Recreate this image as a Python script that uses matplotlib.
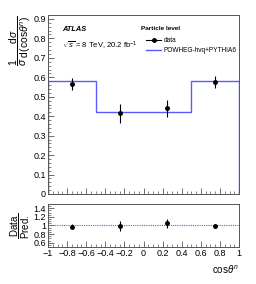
import numpy as np
import matplotlib
matplotlib.use("Agg")
import matplotlib.pyplot as plt
from matplotlib.ticker import MultipleLocator
from matplotlib.lines import Line2D

plt.rcParams['font.family'] = ['Liberation Sans', 'DejaVu Sans']
plt.rcParams['mathtext.fontset'] = 'custom'
plt.rcParams['mathtext.rm'] = 'Liberation Sans'
plt.rcParams['mathtext.it'] = 'Liberation Sans:italic'

# data
bin_edges = [-1.0, -0.5, 0.0, 0.5, 1.0]
bin_centres = [-0.75, -0.25, 0.25, 0.75]
data_vals = [0.565, 0.415, 0.44, 0.575]
data_errs = [0.03, 0.05, 0.045, 0.03]
pred_vals = [0.58, 0.42, 0.42, 0.58]
ratio_vals = [0.975, 0.99, 1.05, 0.99]
ratio_errs = [0.05, 0.11, 0.10, 0.05]

fig = plt.figure(figsize=(2.56, 2.84), dpi=100)
ax = fig.add_axes([0.1875, 0.317, 0.7465, 0.630])
rx = fig.add_axes([0.1875, 0.130, 0.7465, 0.152])

blue = '#5a5aff'

# main panel
ax.stairs(pred_vals, bin_edges, color=blue, lw=1.0)
ax.errorbar(bin_centres, data_vals, yerr=data_errs, fmt='o', color='black',
            ms=2.5, lw=0.8, capsize=0)
ax.set_xlim(-1, 1)
ax.set_ylim(0, 0.92)
ax.yaxis.set_minor_locator(MultipleLocator(0.02))
ax.xaxis.set_major_locator(MultipleLocator(0.2))
ax.xaxis.set_minor_locator(MultipleLocator(0.05))
ax.set_xticklabels([])
ax.set_yticks([0, 0.1, 0.2, 0.3, 0.4, 0.5, 0.6, 0.7, 0.8, 0.9])
ax.set_yticklabels(['0', '0.1', '0.2', '0.3', '0.4', '0.5', '0.6', '0.7', '0.8', '0.9'])
ax.set_ylabel(r'$\dfrac{1}{\sigma}\,\dfrac{\mathrm{d}\sigma}{\mathrm{d(cos}\theta^{n})}$',
              fontsize=7.5, loc='top', labelpad=0)

ax.text(0.075, 0.92, 'ATLAS', transform=ax.transAxes, fontsize=5.3,
        fontweight='bold', fontstyle='italic', va='center')
ax.text(0.075, 0.827, r'$\sqrt{s}$ = 8 TeV, 20.2 fb$^{-1}$', transform=ax.transAxes,
        fontsize=5.5, va='center')
ax.text(0.485, 0.927, 'Particle level', transform=ax.transAxes, fontsize=4.6,
        fontweight='bold', va='center')
handles = [Line2D([], [], color='black', marker='o', ms=2.5, lw=0.8),
           Line2D([], [], color=blue, lw=1.0)]
ax.legend(handles, ['data', 'POWHEG-hvq+PYTHIA6'], loc='upper left',
          bbox_to_anchor=(0.5, 0.89), frameon=False, fontsize=4.7,
          handlelength=2.3, handletextpad=0.4, labelspacing=0.45, borderaxespad=0)

# ratio panel
rx.axhline(1.0, color=blue, lw=0.8, ls=(0, (1, 1)))
rx.errorbar(bin_centres, ratio_vals, yerr=ratio_errs, fmt='o', color='black',
            ms=2.5, lw=0.8, capsize=0)
rx.set_xlim(-1, 1)
rx.set_ylim(0.5, 1.5)
rx.set_yticks([0.6, 0.8, 1.0, 1.2, 1.4])
rx.set_yticklabels(['0.6', '0.8', '1', '1.2', '1.4'])
rx.yaxis.set_minor_locator(MultipleLocator(0.05))
rx.set_xticks([-1, -0.8, -0.6, -0.4, -0.2, 0, 0.2, 0.4, 0.6, 0.8, 1])
rx.set_xticklabels(['\u22121', '\u22120.8', '\u22120.6', '\u22120.4', '\u22120.2',
                    '0', '0.2', '0.4', '0.6', '0.8', '1'])
rx.xaxis.set_minor_locator(MultipleLocator(0.05))
rx.set_ylabel(r'$\dfrac{\mathrm{Data}}{\mathrm{Pred.}}$', fontsize=7, labelpad=1)
rx.set_xlabel(r'cos$\theta^{n}$', fontsize=7, loc='right', labelpad=4)

for a in (ax, rx):
    a.tick_params(which='both', direction='in', labelsize=6.5, pad=1.5,
                  color='#555555')
    a.tick_params(which='major', length=4, width=0.6)
    a.tick_params(which='minor', length=2, width=0.5)
    for s in a.spines.values():
        s.set_linewidth(0.7)
        s.set_color('#555555')

fig.savefig('out.png', dpi=100)
